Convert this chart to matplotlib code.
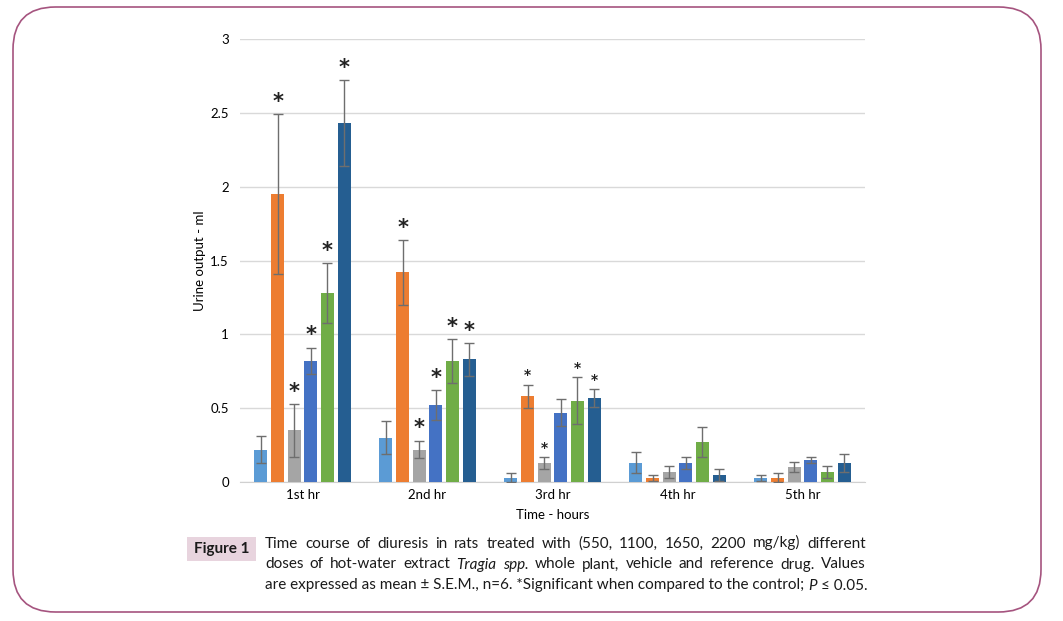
import matplotlib
matplotlib.use("Agg")
import matplotlib.pyplot as plt
import numpy as np
from matplotlib.patches import FancyBboxPatch

categories = ["1st hr", "2nd hr", "3rd hr", "4th hr", "5th hr"]
series_colors = ["#5B9BD5", "#ED7D31", "#A5A5A5", "#4472C4", "#70AD47", "#255E91"]

values = [
    [0.22, 0.30, 0.03, 0.13, 0.03],
    [1.95, 1.42, 0.58, 0.03, 0.03],
    [0.35, 0.22, 0.13, 0.07, 0.10],
    [0.82, 0.52, 0.47, 0.13, 0.15],
    [1.28, 0.82, 0.55, 0.27, 0.07],
    [2.43, 0.83, 0.57, 0.05, 0.13],
]
errors = [
    [0.09, 0.11, 0.03, 0.07, 0.02],
    [0.54, 0.22, 0.08, 0.02, 0.03],
    [0.18, 0.06, 0.04, 0.04, 0.035],
    [0.09, 0.10, 0.09, 0.04, 0.02],
    [0.20, 0.15, 0.16, 0.10, 0.04],
    [0.29, 0.11, 0.06, 0.04, 0.06],
]
# significance markers: (series, category)
significant = [(1, 0), (2, 0), (3, 0), (4, 0), (5, 0),
               (1, 1), (2, 1), (3, 1), (4, 1), (5, 1),
               (1, 2), (2, 2), (4, 2), (5, 2)]

yticks = [0, 0.5, 1, 1.5, 2, 2.5, 3]
ytick_labels = ["0", "0.5", "1", "1.5", "2", "2.5", "3"]

# (segments, justified?)
caption_lines = [
    ([("Time course of diuresis in rats treated with (550, 1100, 1650, 2200 mg/kg) different", "normal")], True),
    ([("doses of hot-water extract", "normal"), ("Tragia spp.", "italic"),
      ("whole plant, vehicle and reference drug. Values", "normal")], True),
    ([("are expressed as mean ± S.E.M., n=6. *Significant when compared to the control;", "normal"),
      ("P", "italic"), ("≤ 0.05.", "normal")], False),
]

plt.rcParams['font.family'] = ['Lato', 'DejaVu Sans']

fig = plt.figure(figsize=(10.63, 6.21), dpi=100)
ax = fig.add_axes([240/1063, (621-482)/621, 625/1063, (482-39)/621])

x = np.arange(len(categories))
step = 0.133
width = 0.104
for i, (vals, errs, col) in enumerate(zip(values, errors, series_colors)):
    pos = x + (i - 2.5) * step
    ax.bar(pos, vals, width=width, color=col, zorder=3)
    ax.errorbar(pos, vals, yerr=errs, fmt='none', ecolor='#6E6E6E',
                elinewidth=1.0, capsize=3.5, capthick=1.0, zorder=4)

for (s, c) in significant:
    pos = x[c] + (s - 2.5) * step
    top = values[s][c] + errors[s][c]
    fs = 15 if c < 2 else 10
    ax.text(pos, top + 0.015, "*", ha='center', va='bottom', fontsize=fs,
            fontweight='bold', color='#222222', family='DejaVu Sans', zorder=5)

ax.set_xlim(-0.5, len(categories) - 0.5)
ax.set_ylim(0, 3)
ax.set_yticks(yticks)
ax.set_yticklabels(ytick_labels, fontsize=9.5)
ax.set_xticks(x)
ax.set_xticklabels(categories, fontsize=9.5)
ax.tick_params(length=0, pad=8)
ax.tick_params(axis='x', pad=5)
ax.yaxis.grid(True, color='#D9D9D9', linewidth=1.0, zorder=0)
for sp in ['top', 'right', 'left']:
    ax.spines[sp].set_visible(False)
ax.spines['bottom'].set_color('#D0D0D0')
ax.set_axisbelow(True)
ax.set_ylabel("Urine output - ml", fontsize=9.5, labelpad=3)
ax.set_xlabel("Time - hours", fontsize=9.5, labelpad=6)

# Outer rounded border
border = FancyBboxPatch((13/1063, (621-612)/621), (1041-13)/1063, (612-7)/621,
                        boxstyle="round,pad=0,rounding_size=0.04",
                        transform=fig.transFigure, fill=False,
                        edgecolor='#A5547F', linewidth=1.2,
                        mutation_aspect=1063/621)
fig.patches.append(border)

# Figure label box
lab = FancyBboxPatch((187/1063, (621-561)/621), 69/1063, 24/621,
                     boxstyle="square,pad=0", transform=fig.transFigure,
                     facecolor='#E8D4DE', edgecolor='none')
fig.patches.append(lab)
fig.text(221.5/1063, (621-549)/621, "Figure 1", ha='center', va='center',
         fontsize=11, fontweight='bold', color='#1a1a1a')

# Caption (first two lines justified)
renderer = fig.canvas.get_renderer()
x0, x1 = 265.0, 866.0
line_baselines = [547.5, 568.5, 589.5]
probe = fig.text(0, 0, "a a", fontsize=11)
probe2 = fig.text(0, 0, "aa", fontsize=11)
space_w = (probe.get_window_extent(renderer=renderer).width
           - probe2.get_window_extent(renderer=renderer).width)
probe.remove()
probe2.remove()
for (segments, justify), ypix in zip(caption_lines, line_baselines):
    if justify:
        pieces = []
        for txt, style in segments:
            for w in txt.split(" "):
                if w:
                    pieces.append((w, style))
    else:
        pieces = segments
    texts = []
    for w, style in pieces:
        t = fig.text(0, (621-ypix)/621, w, ha='left', va='baseline', fontsize=11,
                     fontstyle=style, color='#1a1a1a')
        texts.append(t)
    widths = [t.get_window_extent(renderer=renderer).width for t in texts]
    if justify:
        gap = (x1 - x0 - sum(widths)) / (len(texts) - 1)
    else:
        gap = space_w
    cur = x0
    for t, w in zip(texts, widths):
        t.set_x(cur/1063)
        cur += w + gap

fig.savefig("out.png", dpi=100)
